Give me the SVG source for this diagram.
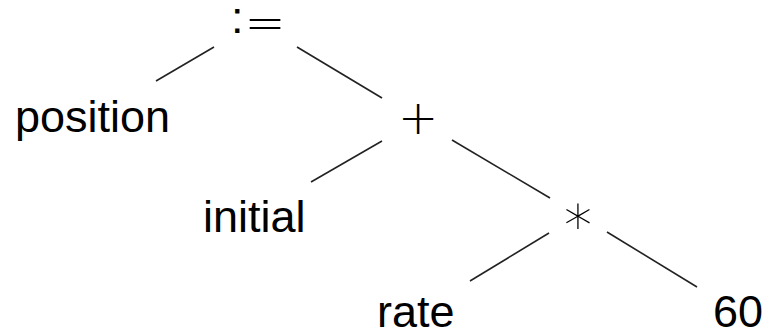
<svg xmlns="http://www.w3.org/2000/svg" width="765" height="331" viewBox="0 0 765 331">
<style>
  text { font-family: "Liberation Sans", Arial, sans-serif; fill: #000; }
  .lbl { font-size: 45px; }
  .op { font-family: "DejaVu Sans", sans-serif; font-weight: 200; font-size: 48px; }
  .edge { stroke: #222; stroke-width: 1.6; fill: none; }
</style>
<rect width="765" height="331" fill="#fff"/>
<g id="edges">
  <line class="edge" x1="214" y1="47" x2="156" y2="81"/>
  <line class="edge" x1="297" y1="47" x2="382" y2="98"/>
  <line class="edge" x1="382" y1="141" x2="311" y2="182"/>
  <line class="edge" x1="452" y1="140" x2="550" y2="198"/>
  <line class="edge" x1="549" y1="233" x2="470" y2="281"/>
  <line class="edge" x1="607" y1="232" x2="697" y2="287"/>
</g>
<g id="assign">
  <text class="lbl" x="231" y="33">:<tspan class="op" x="244.5" y="40" style="font-size:49px">=</tspan></text>
</g>
<g id="position"><text class="lbl" x="15" y="132">position</text></g>
<g id="plus"><text class="op" x="418" y="134" text-anchor="middle">+</text></g>
<g id="initial"><text class="lbl" x="203" y="232">initial</text></g>
<g id="times"><text class="op" x="578" y="245" text-anchor="middle" style="font-size:56px">*</text></g>
<g id="rate"><text class="lbl" x="377" y="327">rate</text></g>
<g id="sixty"><text class="lbl" x="713" y="327">60</text></g>
</svg>
